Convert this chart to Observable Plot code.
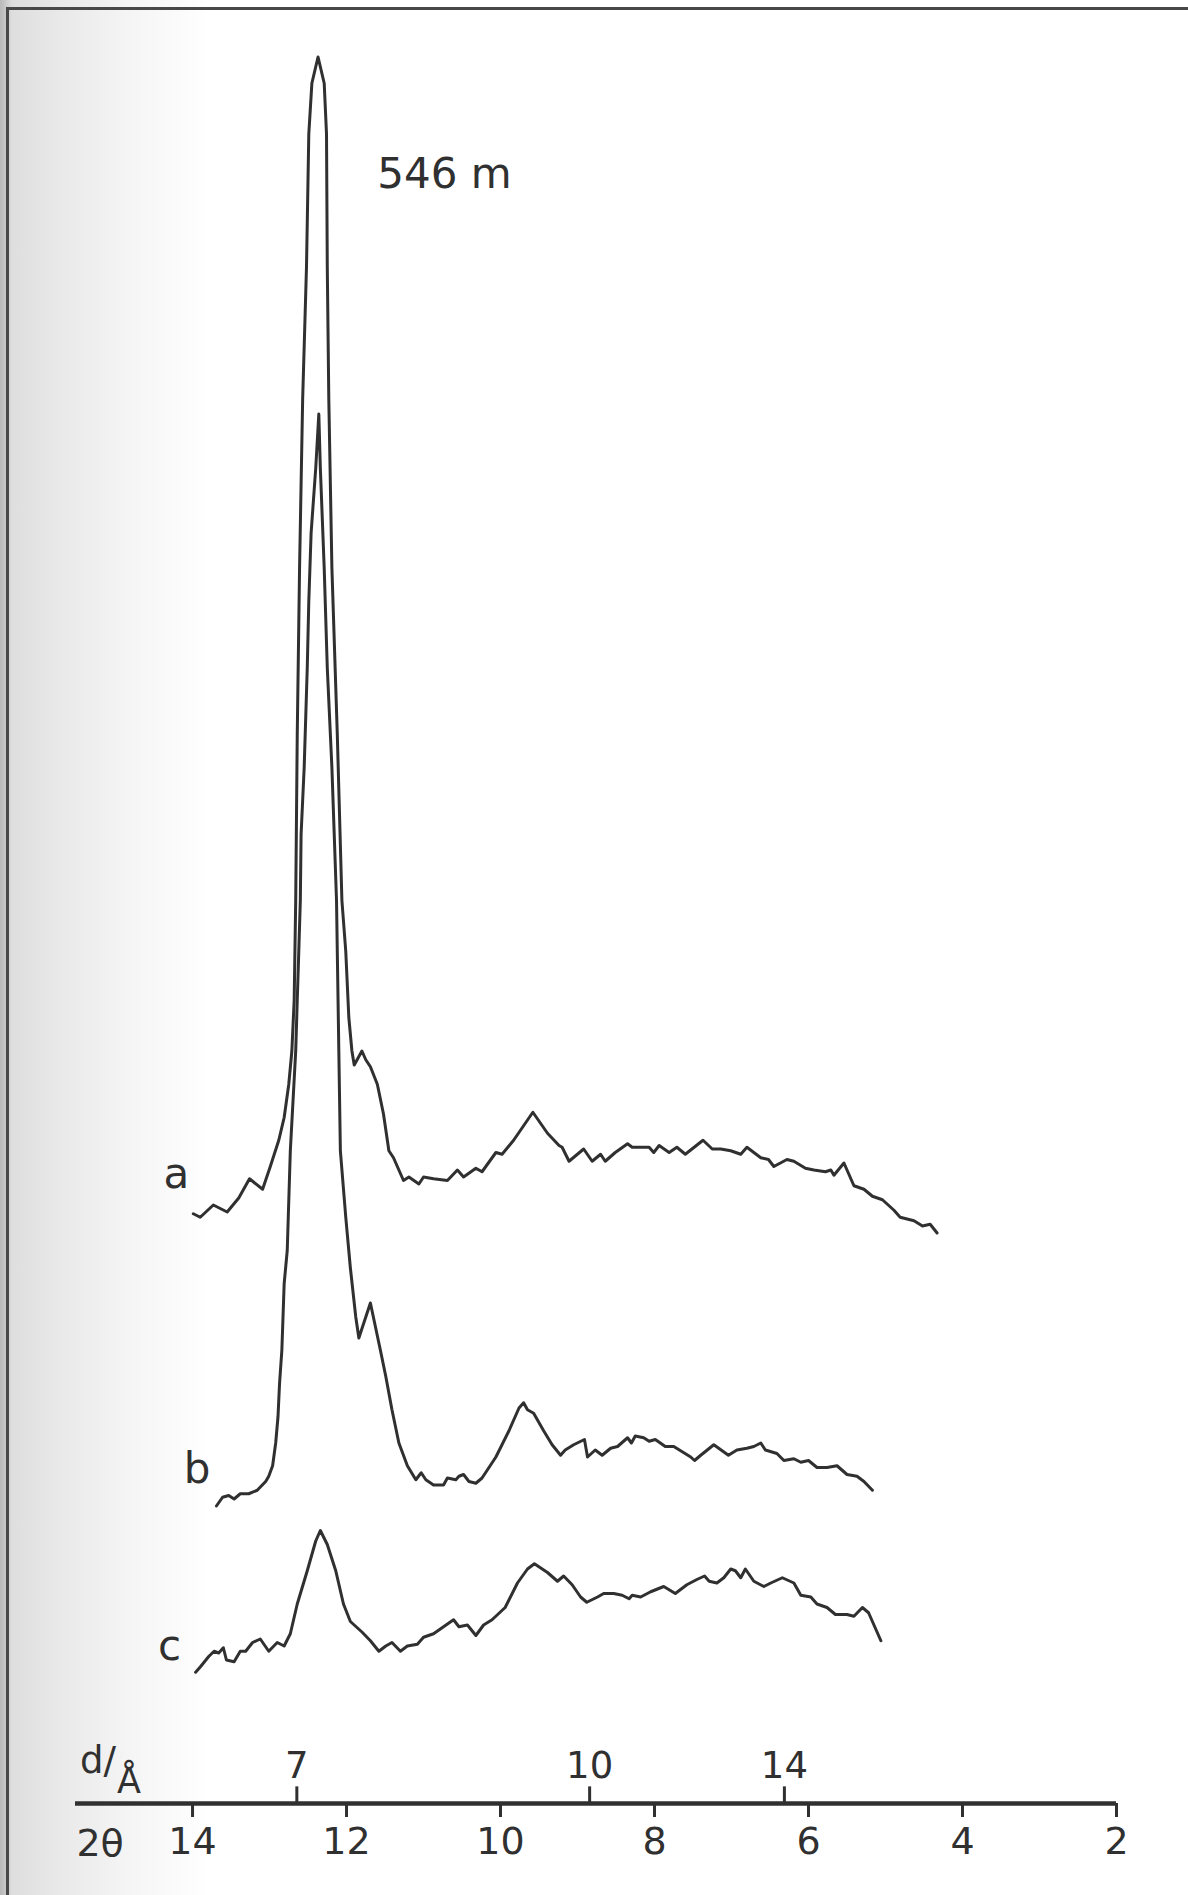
<!DOCTYPE html>
<html>
<head>
<meta charset="utf-8">
<script src="https://cdn.jsdelivr.net/npm/d3@7"></script>
<script src="https://cdn.jsdelivr.net/npm/@observablehq/plot@0.6"></script>
<style>
  html, body { margin: 0; padding: 0; background: #fff; }
  #page {
    position: relative; width: 1188px; height: 1895px; overflow: hidden;
    background: linear-gradient(to right, #b9b9b9 0px, #c6c6c6 5px, #dedede 12px, #e9e9e9 60px, #f5f5f5 130px, #ffffff 210px);
  }
  #frame {
    position: absolute; left: 6px; top: 7px; right: -10px; bottom: -10px;
    border-left: 3px solid #484848; border-top: 3px solid #484848;
  }
  #page svg { position: absolute; left: 0; top: 0; }
</style>
</head>
<body>
<div id="page"><div id="frame"></div></div>
<script>
// X-ray diffractograms of the 546 m sample, traces a, b and c (Cu Kα).
const wavelength = 1.5418; // Å
const twoThetaOf = d => 2 * Math.asin(wavelength / (2 * d)) * 180 / Math.PI;

const twoThetaTicks = [14, 12, 10, 8, 6, 4, 2];
const spacingTicks = [7, 10, 14]; // d / Å

// Trace a
const aTwoTheta = [13.99,13.90,13.73,13.55,13.40,13.26,13.09,12.99,12.88,12.81,12.75,12.71,12.68,12.66,12.64,12.61,12.57,12.52,12.49,12.45,12.37,12.29,12.26,12.25,12.23,12.19,12.12,12.06,12.01,11.97,11.93,11.90,11.80,11.75,11.69,11.60,11.52,11.45,11.39,11.26,11.19,11.06,11.00,10.87,10.69,10.56,10.48,10.32,10.24,10.06,9.98,9.83,9.58,9.39,9.24,9.20,9.11,8.92,8.81,8.70,8.64,8.51,8.35,8.29,8.07,8.01,7.94,7.81,7.71,7.60,7.37,7.25,7.14,7.01,6.88,6.80,6.62,6.52,6.45,6.28,6.19,6.04,5.93,5.78,5.71,5.67,5.54,5.41,5.28,5.17,5.04,4.89,4.81,4.63,4.52,4.42,4.33];
const aIntensity = [33.7,33.5,34.2,33.8,34.6,35.7,35.1,36.4,37.9,39.2,41.1,43.0,45.9,51.6,61.1,70.6,80.2,87.8,95.4,98.3,99.8,98.3,95.4,87.8,80.2,70.6,61.1,51.6,48.7,44.9,43.0,42.2,43.0,42.5,42.1,41.1,39.4,37.3,36.9,35.6,35.8,35.4,35.8,35.7,35.6,36.2,35.8,36.3,36.1,37.2,37.1,37.9,39.5,38.3,37.6,37.5,36.7,37.4,36.7,37.1,36.7,37.2,37.7,37.5,37.5,37.2,37.6,37.2,37.5,37.1,37.9,37.4,37.4,37.3,37.1,37.5,36.9,36.8,36.4,36.8,36.7,36.3,36.2,36.1,36.2,35.9,36.6,35.3,35.1,34.7,34.5,33.9,33.5,33.3,33.0,33.1,32.6];

// Trace b
const bTwoTheta = [13.69,13.61,13.53,13.46,13.38,13.27,13.16,13.05,13.01,12.96,12.92,12.89,12.87,12.84,12.81,12.77,12.73,12.66,12.64,12.62,12.60,12.59,12.55,12.51,12.49,12.46,12.40,12.36,12.34,12.29,12.25,12.19,12.16,12.13,12.12,12.10,12.08,12.01,11.95,11.88,11.84,11.69,11.56,11.49,11.41,11.32,11.21,11.10,11.03,10.97,10.87,10.74,10.69,10.58,10.54,10.48,10.41,10.32,10.24,10.06,9.89,9.76,9.70,9.65,9.57,9.44,9.33,9.22,9.16,9.05,8.91,8.87,8.77,8.68,8.57,8.48,8.35,8.30,8.25,8.14,8.07,7.99,7.86,7.75,7.64,7.53,7.48,7.40,7.23,7.04,6.93,6.80,6.71,6.62,6.56,6.41,6.32,6.19,6.10,6.00,5.89,5.76,5.63,5.50,5.37,5.28,5.17];
const bIntensity = [17.0,17.5,17.6,17.4,17.7,17.7,17.9,18.4,18.7,19.3,20.6,22.1,24.0,25.9,29.7,31.6,37.3,43.0,45.9,48.7,51.6,55.4,59.2,64.9,68.7,72.6,76.3,79.4,76.3,70.6,64.9,59.2,55.4,51.6,48.7,43.0,37.3,33.5,30.6,27.8,26.6,28.6,25.9,24.4,22.5,20.6,19.3,18.5,18.9,18.5,18.2,18.2,18.6,18.5,18.7,18.8,18.4,18.3,18.6,19.8,21.3,22.6,22.9,22.5,22.3,21.3,20.5,19.9,20.2,20.5,20.8,19.8,20.2,19.9,20.3,20.4,20.9,20.6,21.0,20.9,20.7,20.8,20.4,20.4,20.1,19.8,19.6,19.9,20.5,19.9,20.2,20.3,20.4,20.6,20.2,20.0,19.6,19.7,19.5,19.6,19.2,19.2,19.3,18.8,18.7,18.4,17.9];

// Trace c
const cTwoTheta = [13.96,13.90,13.79,13.72,13.66,13.60,13.56,13.46,13.38,13.31,13.22,13.12,13.01,12.90,12.81,12.73,12.64,12.51,12.40,12.34,12.25,12.14,12.04,11.95,11.80,11.69,11.58,11.49,11.41,11.30,11.21,11.08,11.00,10.87,10.74,10.61,10.54,10.43,10.32,10.22,10.11,9.94,9.78,9.65,9.56,9.39,9.26,9.18,9.07,8.96,8.88,8.74,8.66,8.53,8.42,8.33,8.29,8.18,8.05,7.88,7.73,7.58,7.45,7.35,7.29,7.19,7.10,7.01,6.95,6.88,6.82,6.71,6.58,6.49,6.34,6.19,6.10,5.97,5.89,5.76,5.65,5.50,5.41,5.30,5.22,5.06];
const cIntensity = [7.5,7.8,8.4,8.7,8.6,8.9,8.2,8.1,8.7,8.7,9.2,9.4,8.7,9.2,9.0,9.7,11.4,13.3,15.0,15.6,14.8,13.3,11.4,10.4,9.8,9.3,8.7,9.0,9.2,8.7,9.0,9.1,9.5,9.7,10.1,10.5,10.1,10.2,9.6,10.2,10.5,11.2,12.6,13.4,13.7,13.2,12.7,13.0,12.5,11.8,11.5,11.8,12.0,12.0,11.9,11.7,11.9,11.8,12.1,12.4,12.0,12.5,12.8,13.0,12.7,12.6,12.9,13.4,13.3,12.9,13.4,12.7,12.4,12.6,12.9,12.6,11.9,11.8,11.4,11.2,10.8,10.8,10.7,11.2,10.9,9.3];

const traceLabels = ["a", "b", "c"];
const sampleLabel = "546 m";

const toRows = (t, i) => t.map((v, k) => ({twoTheta: v, intensity: i[k]}));
const traces = [toRows(aTwoTheta, aIntensity), toRows(bTwoTheta, bIntensity), toRows(cTwoTheta, cIntensity)];

const ink = "#303030";
const font = "'DejaVu Sans', sans-serif";
const lineStyle = {x: "twoTheta", y: "intensity", stroke: ink, strokeWidth: 3, strokeLinejoin: "round", strokeLinecap: "round"};

const chart = Plot.plot({
  width: 1188,
  height: 1895,
  marginLeft: 75,
  marginRight: 72,
  marginTop: 53,
  marginBottom: 92,
  style: {background: "transparent", fontFamily: font, color: ink, overflow: "visible"},
  x: {domain: [15.52, 2], axis: null},
  y: {domain: [0, 100], axis: null},
  marks: [
    // baseline with 2θ ticks below and d-spacing ticks above
    Plot.ruleY([0], {x1: 15.52, x2: 2, stroke: ink, strokeWidth: 4.5}),
    Plot.axisX(twoThetaTicks, {anchor: "bottom", tickSize: 14, tickPadding: 10, fontSize: 38, strokeWidth: 3, tickFormat: d => String(d), label: null}),
    Plot.ruleX(spacingTicks, {x: twoThetaOf, y1: 0, y2: 0.95, stroke: ink, strokeWidth: 3}),
    Plot.text(spacingTicks, {x: twoThetaOf, y: 1.45, text: d => String(d), fontSize: 37, lineAnchor: "bottom", fill: ink}),
    Plot.text(["2θ"], {x: 15.2, y: -3.0, text: d => d, fontSize: 38, lineAnchor: "bottom", fill: ink}),
    Plot.text(["d/"], {x: 15.46, y: 1.75, text: d => d, fontSize: 37, textAnchor: "start", lineAnchor: "bottom", fill: ink}),
    Plot.text(["Å"], {x: 14.98, y: 0.6, text: d => d, fontSize: 35, textAnchor: "start", lineAnchor: "bottom", fill: ink}),

    // diffraction traces
    Plot.line(traces[0], lineStyle),
    Plot.line(traces[1], lineStyle),
    Plot.line(traces[2], lineStyle),

    // trace labels
    Plot.text([
      {label: traceLabels[0], twoTheta: 14.21, intensity: 35.2},
      {label: traceLabels[1], twoTheta: 13.94, intensity: 18.3},
      {label: traceLabels[2], twoTheta: 14.30, intensity: 8.2}
    ], {x: "twoTheta", y: "intensity", text: "label", fontSize: 42, lineAnchor: "bottom", fill: ink}),
    Plot.text([sampleLabel], {x: 11.60, y: 92.3, text: d => d, fontSize: 42, textAnchor: "start", lineAnchor: "bottom", fill: ink})
  ]
});

document.getElementById("page").appendChild(chart);
</script>
</body>
</html>
